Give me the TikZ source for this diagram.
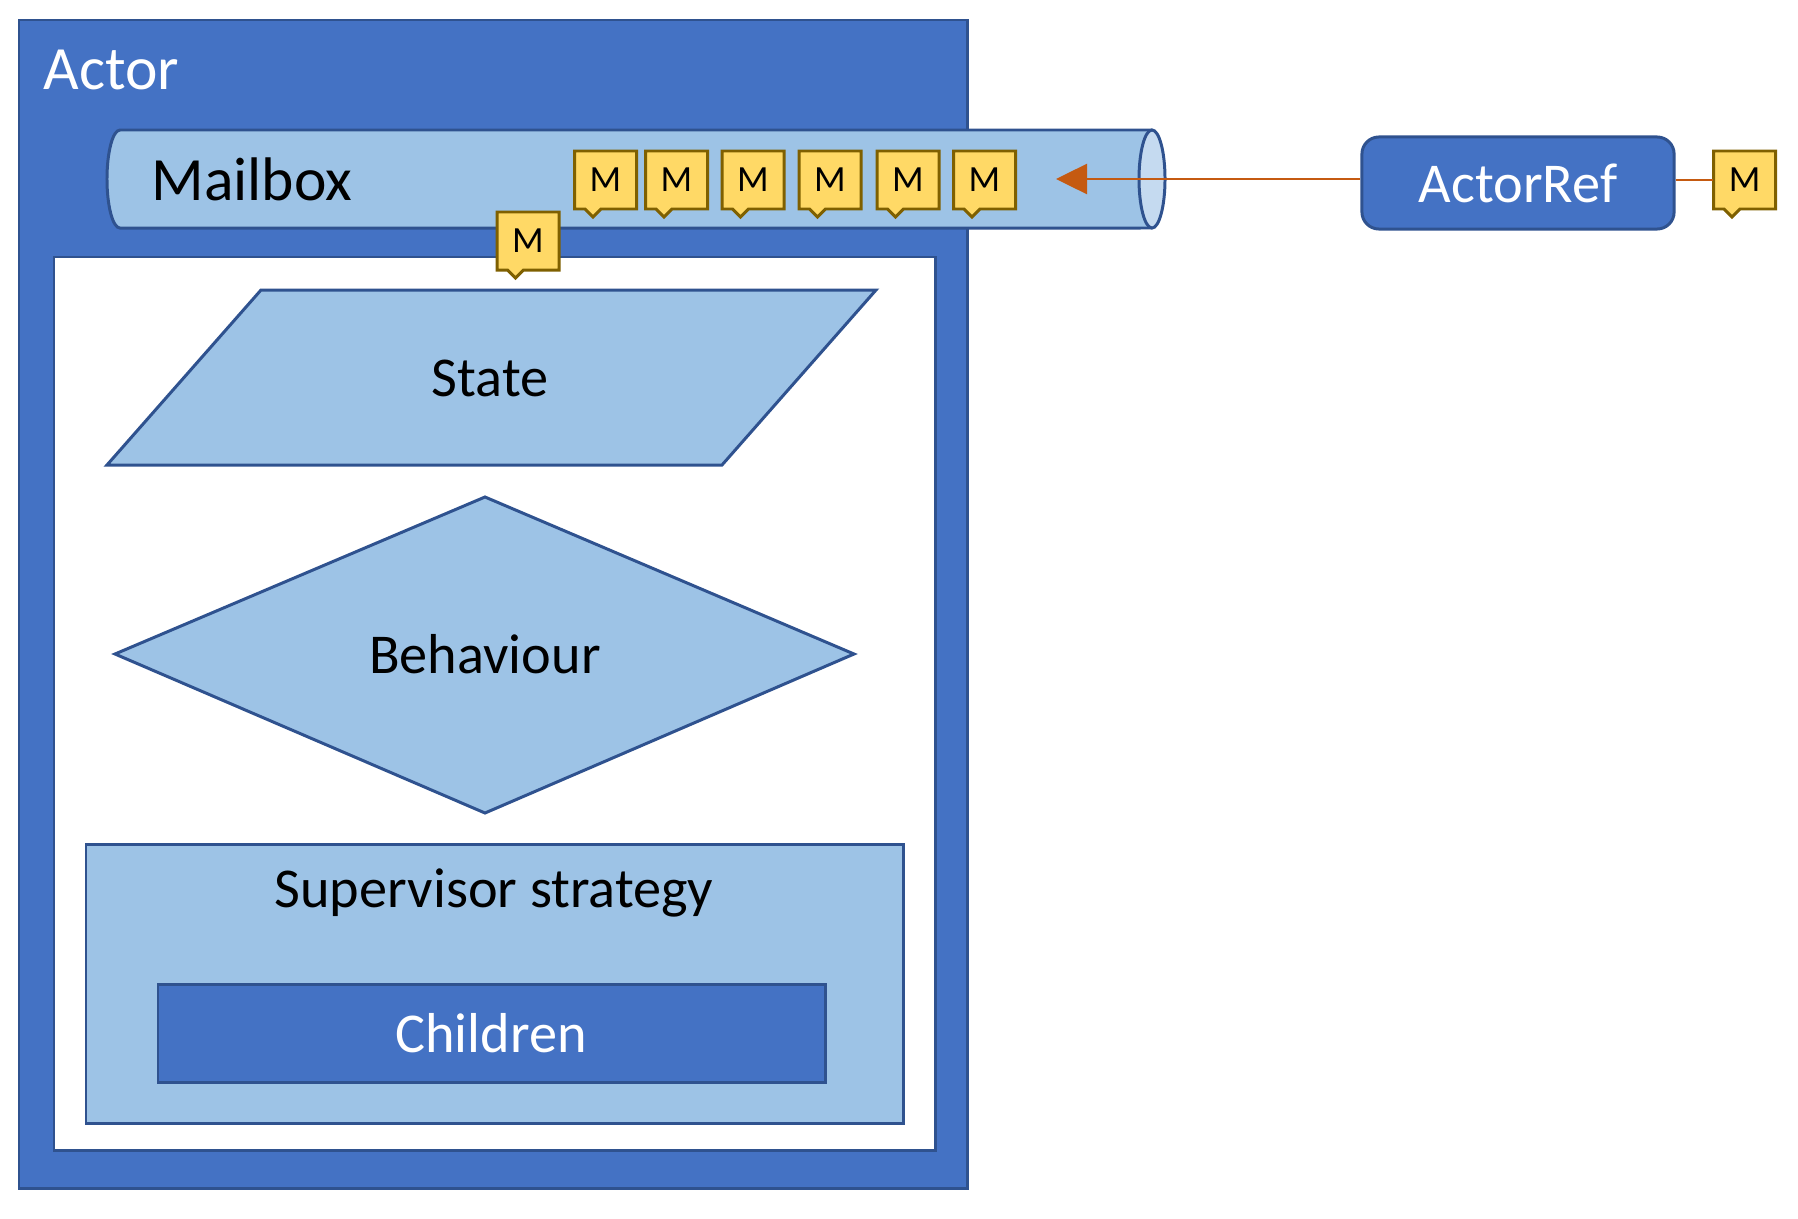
\documentclass[tikz,border=0pt]{standalone}
\usepackage{fontspec}
\setmainfont{Carlito}
\usetikzlibrary{arrows.meta}
\definecolor{actorblue}{RGB}{68,114,196}
\definecolor{edgeblue}{RGB}{47,82,143}
\definecolor{paleblue}{RGB}{157,195,230}
\definecolor{capblue}{RGB}{197,218,240}
\definecolor{msgyellow}{RGB}{255,217,102}
\definecolor{msgedge}{RGB}{127,96,0}
\definecolor{wirered}{RGB}{197,90,17}
\tikzset{
  box/.style={draw=edgeblue,line width=0.85pt},
  txt/.style={inner sep=0pt,font=\fontsize{16}{19}\selectfont},
  bigtxt/.style={inner sep=0pt,font=\fontsize{17.5}{21}\selectfont},
  msgbox/.style={draw=msgedge,fill=msgyellow,line width=0.85pt},
  msgtext/.style={inner sep=0pt,minimum width=0.62cm,minimum height=0.58cm,font=\fontsize{10.5}{12}\selectfont},
  wire/.style={draw=wirered,line width=0.75pt}
}
% message: name, left, top
\newcommand{\mailmsg}[3]{%
  \draw[msgbox] (#2,#3) -- ++(62,0) -- ++(0,58) -- ++(-35.5,0) -- ++(-8,8) -- ++(-8,-8) -- ++(-10.5,0) -- cycle;
  \node[msgtext] (#1) at (#2+31,#3+29) {M};}

\begin{document}
\begin{tikzpicture}[x=0.01cm,y=-0.01cm]
\useasboundingbox (0,0) rectangle (1798,1218);

% Actor and its inside
\draw[box,fill=actorblue] (19,20) rectangle (967,1188);
\node[bigtxt,text=white,anchor=base west] (actor) at (43,89) {Actor};
\draw[box,fill=white] (54,257) rectangle (935,1150);

\draw[box,fill=paleblue] (107,465) -- (261,290) -- (876,290) -- (722,465) -- cycle;
\node[txt] (state) at (490,378) {State};

\draw[box,fill=paleblue] (115,654) -- (485,497) -- (854,654) -- (485,813) -- cycle;
\node[txt] (behaviour) at (485,654) {Behaviour};

\draw[box,fill=paleblue] (86,844) rectangle (903,1123);
\node[txt,anchor=base] (strategy) at (494,907) {Supervisor strategy};
\draw[box,fill=actorblue] (158,984) rectangle (825,1082);
\node[txt,text=white] (children) at (491,1033) {Children};

% Mailbox tube
\draw[box,fill=paleblue] (1152,130) -- (120,130) arc[start angle=90,end angle=270,x radius=0.13cm,y radius=0.49cm] -- (1152,228);
\draw[box,fill=capblue] (1152,179) ellipse[x radius=0.13cm,y radius=0.49cm];
\node[bigtxt,anchor=base west] (mailbox) at (151,200) {Mailbox};

\foreach \x [count=\i] in {574.5,645.5,722,799,877,953.5} {\mailmsg{m\i}{\x}{151}}
\mailmsg{m7}{497}{212}

% ActorRef
\node[box,fill=actorblue,rounded corners=0.17cm,minimum width=3.12cm,minimum height=0.92cm,txt,text=white] (actorref) at (1518,183) {ActorRef};
\mailmsg{m8}{1713.5}{151}
\coordinate (inlet) at (1056,179);

\draw[wire,-{Triangle[length=0.31cm,width=0.30cm]}] (actorref.west |- inlet) -- (inlet);
\draw[wire] (actorref.east |- m8.west) -- (m8.west);

\end{tikzpicture}
\end{document}
